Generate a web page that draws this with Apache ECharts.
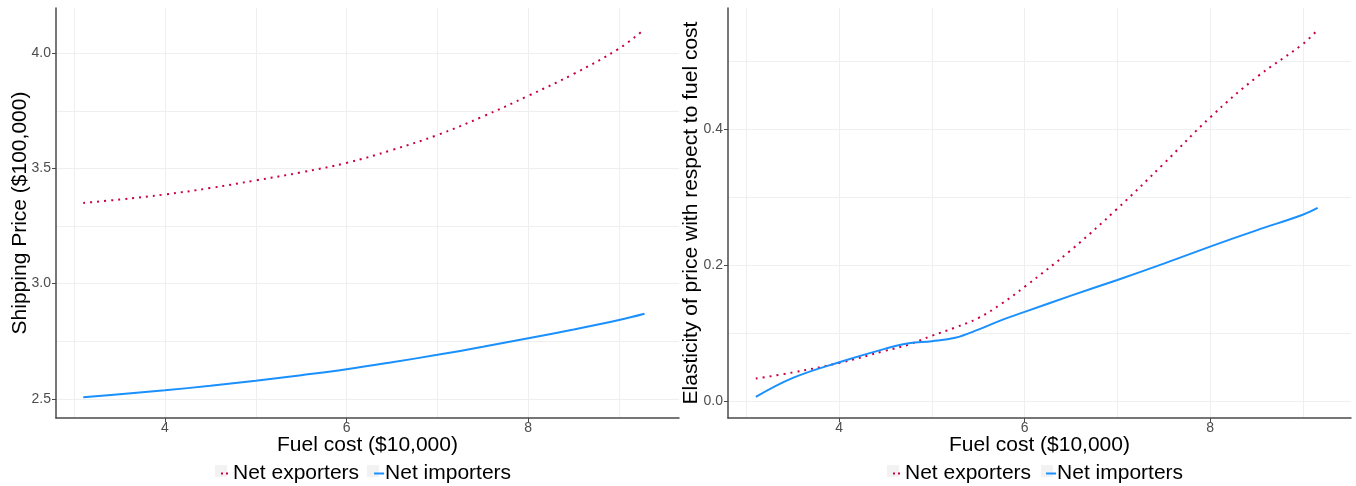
<!DOCTYPE html>
<html><head><meta charset="utf-8">
<script src="https://cdn.jsdelivr.net/npm/echarts@6/dist/echarts.min.js"></script>
<style>html,body{margin:0;padding:0;background:#fff}#c{width:1356px;height:486px}</style>
</head><body><div id="c"></div>
<script>
// Left panel: shipping price
const fuelLeft = [3.1, 3.5, 4, 4.5, 5, 5.5, 6, 6.5, 7, 7.5, 8, 8.5, 9, 9.28];
const priceExporters = [3.35, 3.365, 3.387, 3.415, 3.448, 3.483, 3.524, 3.58, 3.645, 3.725, 3.815, 3.91, 4.02, 4.104];
const priceImporters = [2.507, 2.52, 2.537, 2.557, 2.579, 2.603, 2.629, 2.659, 2.691, 2.726, 2.763, 2.801, 2.842, 2.869];
// Right panel: elasticity
const fuelRight = [3.1, 3.5, 4, 4.5, 4.75, 5, 5.25, 5.5, 5.75, 6, 6.5, 7, 7.5, 8, 8.5, 9, 9.16];
const elasExporters = [0.033, 0.042, 0.056, 0.074, 0.083, 0.096, 0.108, 0.122, 0.143, 0.168, 0.222, 0.283, 0.349, 0.417, 0.476, 0.525, 0.546];
const elasImporters = [0.006, 0.034, 0.057, 0.077, 0.085, 0.088, 0.093, 0.105, 0.119, 0.131, 0.155, 0.178, 0.202, 0.227, 0.251, 0.274, 0.284];
// Ticks
const xMajorTicks = [4, 6, 8];
const xMinorTicks = [3, 5, 7, 9];
const yLeftMajor = [2.5, 3.0, 3.5, 4.0];
const yLeftMinor = [2.75, 3.25, 3.75];
const yRightMajor = [0.0, 0.2, 0.4];
const yRightMinor = [0.1, 0.3, 0.5];
const seriesNames = ['Net exporters', 'Net importers'];

const FONT = 'Liberation Sans';
const RED = '#C9003F', BLUE = '#1A90FF', GRID = '#EFEFEF', AXIS = '#4a4a4a';

function pairs(xs, ys){ return xs.map((x,i)=>[x, ys[i]]); }

function mainX(gi, min, max){
  return {type:'value', gridIndex:gi, min, max,
    name:'Fuel cost ($10,000)', nameLocation:'middle', nameGap:17, nameMoveOverlap:false,
    nameTextStyle:{fontFamily:FONT, fontSize:21, color:'#000', verticalAlign:'top'},
    axisLine:{show:true, onZero:false, lineStyle:{color:AXIS, width:1.5}},
    axisTick:{show:true, length:4, customValues:xMajorTicks, lineStyle:{color:AXIS}},
    axisLabel:{customValues:xMajorTicks, fontFamily:FONT, fontSize:14, color:'#4D4D4D', margin:3},
    splitLine:{show:true, lineStyle:{color:GRID, width:1}}};
}
function minorX(gi, min, max){
  return {type:'value', gridIndex:gi, min, max, position:'bottom',
    axisLine:{show:false}, axisLabel:{show:false},
    axisTick:{show:false, customValues:xMinorTicks},
    splitLine:{show:true, lineStyle:{color:GRID, width:1}}};
}
function mainY(gi, min, max, ticks, name, gap){
  return {type:'value', gridIndex:gi, min, max,
    name, nameLocation:'middle', nameGap:gap, nameMoveOverlap:false,
    nameTextStyle:{fontFamily:FONT, fontSize:21, color:'#000'},
    axisLine:{show:true, onZero:false, lineStyle:{color:AXIS, width:1.5}},
    axisTick:{show:true, length:4, customValues:ticks, lineStyle:{color:AXIS}},
    axisLabel:{customValues:ticks, fontFamily:FONT, fontSize:14, color:'#4D4D4D', margin:5,
      formatter:v=>v.toFixed(1)},
    splitLine:{show:true, lineStyle:{color:GRID, width:1}}};
}
function minorY(gi, min, max, ticks){
  return {type:'value', gridIndex:gi, min, max, position:'left',
    axisLine:{show:false}, axisLabel:{show:false},
    axisTick:{show:false, customValues:ticks},
    splitLine:{show:true, lineStyle:{color:GRID, width:1}}};
}
function ser(name, xi, yi, data, isDot){
  return {type:'line', name, xAxisIndex:xi, yAxisIndex:yi, data, smooth:0.4,
    showSymbol:false, symbol:'none', z:5,
    lineStyle: isDot ? {color:RED, width:2, type:[2,5]} : {color:BLUE, width:2},
    itemStyle:{color: isDot?RED:BLUE}};
}

const ICON_DOTS = 'path://M0,0L0.01,0L0,0.01Z M1,5h2v2h-2Z M6,5h2v2h-2Z M12,12L11.99,12L12,11.99Z';
const ICON_LINE = 'path://M0,0L0.01,0L0,0.01Z M2,5h10v2h-10Z M12,12L11.99,12L12,11.99Z';

function legend(left){
  return {left, top:458, orient:'horizontal', itemWidth:12, itemHeight:12, itemGap:13,
    textStyle:{fontFamily:FONT, fontSize:21, color:'#000', padding:[0,0,0,-4]},
    data:[{name:seriesNames[0], icon:ICON_DOTS, itemStyle:{color:RED}},
          {name:seriesNames[1], icon:ICON_LINE, itemStyle:{color:BLUE}}]};
}
function keyBox(x){ return {type:'rect', left:x, top:465, z:-1, shape:{width:12, height:12}, style:{fill:'#F2F2F2'}}; }

const chart = echarts.init(document.getElementById('c'), null, {renderer:'canvas'});
chart.setOption({
  animation:false,
  backgroundColor:'#fff',
  grid:[{left:56, right:677, top:8, bottom:68}, {left:728, right:5, top:8, bottom:68}],
  xAxis:[mainX(0,2.8,9.66), minorX(0,2.8,9.66), mainX(1,2.8,9.52), minorX(1,2.8,9.52)],
  yAxis:[mainY(0,2.417,4.196,yLeftMajor,'Shipping Price ($100,000)',25), minorY(0,2.417,4.196,yLeftMinor),
         mainY(1,-0.025,0.578,yRightMajor,'Elasticity of price with respect to fuel cost',26), minorY(1,-0.025,0.578,yRightMinor)],
  legend:[legend(215), legend(887)],
  graphic:[keyBox(215), keyBox(367), keyBox(887), keyBox(1041)],
  series:[
    ser(seriesNames[0],0,0,pairs(fuelLeft,priceExporters),true),
    ser(seriesNames[1],0,0,pairs(fuelLeft,priceImporters),false),
    ser(seriesNames[0],2,2,pairs(fuelRight,elasExporters),true),
    ser(seriesNames[1],2,2,pairs(fuelRight,elasImporters),false)
  ]
});
</script></body></html>
